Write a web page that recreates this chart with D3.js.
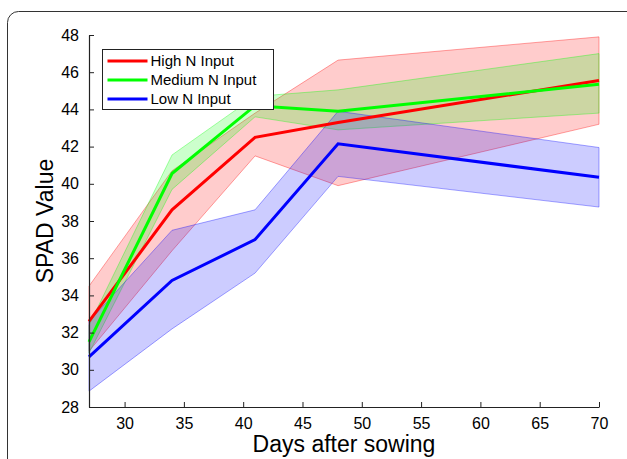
<!DOCTYPE html>
<html>
<head>
<meta charset="utf-8">
<script src="https://cdn.jsdelivr.net/npm/d3@7"></script>
<style>
  body { margin: 0; background: #fff; }
  svg { display: block; font-family: "Liberation Sans", Arial, sans-serif; }
</style>
</head>
<body>
<div id="chart"></div>
<script>
// Days after sowing
const days = [27, 34, 41, 48, 70];

// SPAD means and band limits per N level
const highMean  = [32.6, 38.6, 42.5, 43.3, 45.55];
const highUpper = [34.5, 40.7, 43.8, 46.65, 47.9];
const highLower = [31.0, 36.4, 41.5, 39.9, 43.2];

const medMean  = [31.5, 40.55, 44.2, 43.9, 45.35];
const medUpper = [32.4, 41.55, 44.7, 45.05, 47.0];
const medLower = [30.9, 39.7, 43.6, 42.9, 43.8];

const lowMean  = [30.7, 34.8, 37.0, 42.15, 40.35];
const lowUpper = [32.6, 37.5, 38.6, 43.9, 41.95];
const lowLower = [28.85, 32.2, 35.2, 40.4, 38.75];

const seriesNames = ['High N Input', 'Medium N Input', 'Low N Input'];
const xTicks = [30, 35, 40, 45, 50, 55, 60, 65, 70];
const yTicks = [28, 30, 32, 34, 36, 38, 40, 42, 44, 46, 48];

const series = [
  { name: seriesNames[0], mean: highMean, upper: highUpper, lower: highLower, line: '#ff0000', fill: 'rgba(255,0,0,0.2)', edge: 'rgba(255,0,0,0.35)' },
  { name: seriesNames[1], mean: medMean, upper: medUpper, lower: medLower, line: '#00ff00', fill: 'rgba(0,255,0,0.2)', edge: 'rgba(0,255,0,0.35)' },
  { name: seriesNames[2], mean: lowMean, upper: lowUpper, lower: lowLower, line: '#0000ff', fill: 'rgba(0,0,255,0.2)', edge: 'rgba(0,0,255,0.35)' }
];

const width = 627, height = 459;
const margin = { top: 35, right: 28, bottom: 52, left: 89 };

const svg = d3.select('#chart').append('svg')
  .attr('width', width)
  .attr('height', height);

// rounded frame around the figure
svg.append('rect')
  .attr('x', 7.5).attr('y', 11.5)
  .attr('width', 660).attr('height', 480)
  .attr('rx', 11)
  .attr('fill', 'none')
  .attr('stroke', '#333')
  .attr('stroke-width', 1);

const x = d3.scaleLinear().domain([27, 70]).range([margin.left, width - margin.right]);
const y = d3.scaleLinear().domain([28, 48]).range([height - margin.bottom, margin.top]);

const area = d3.area()
  .x((d, i) => x(days[i]))
  .y0(d => y(d[0]))
  .y1(d => y(d[1]));

const line = d3.line()
  .x((d, i) => x(days[i]))
  .y(d => y(d));

// shaded bands
series.forEach(s => {
  const pts = days.map((d, i) => [s.lower[i], s.upper[i]]);
  svg.append('path')
    .datum(pts)
    .attr('fill', s.fill)
    .attr('stroke', s.edge)
    .attr('stroke-width', 1)
    .attr('d', area);
});

// mean lines
series.forEach(s => {
  svg.append('path')
    .datum(s.mean)
    .attr('fill', 'none')
    .attr('stroke', s.line)
    .attr('stroke-width', 3)
    .attr('d', line);
});

// axes
const xAxis = svg.append('g')
  .attr('transform', `translate(0,${height - margin.bottom})`)
  .call(d3.axisBottom(x).tickValues(xTicks).tickSizeInner(-5).tickSizeOuter(0).tickPadding(11));

const yAxis = svg.append('g')
  .attr('transform', `translate(${margin.left},0)`)
  .call(d3.axisLeft(y).tickValues(yTicks).tickSizeInner(-5).tickSizeOuter(0).tickPadding(10));

[xAxis, yAxis].forEach(g => {
  g.select('.domain').attr('stroke', '#222').attr('stroke-width', 1.2);
  g.selectAll('.tick line').attr('stroke', '#222');
  g.selectAll('.tick text')
    .attr('font-family', '"Liberation Sans", Arial, sans-serif')
    .attr('font-size', 16)
    .attr('fill', '#000');
});

// axis titles
svg.append('text')
  .attr('x', (margin.left + width - margin.right) / 2)
  .attr('y', 452)
  .attr('text-anchor', 'middle')
  .attr('font-size', 23)
  .text('Days after sowing');

svg.append('text')
  .attr('transform', `translate(53,${(margin.top + height - margin.bottom) / 2}) rotate(-90)`)
  .attr('text-anchor', 'middle')
  .attr('font-size', 23)
  .text('SPAD Value');

// legend
const legend = svg.append('g').attr('transform', 'translate(102.5,49.5)');
legend.append('rect')
  .attr('width', 171).attr('height', 60)
  .attr('fill', '#fff')
  .attr('stroke', '#222')
  .attr('stroke-width', 1);

series.forEach((s, i) => {
  const row = legend.append('g').attr('transform', `translate(0,${11.5 + i * 19})`);
  row.append('line')
    .attr('x1', 5).attr('x2', 45)
    .attr('stroke', s.line)
    .attr('stroke-width', 3);
  row.append('text')
    .attr('x', 48).attr('y', 5)
    .attr('font-size', 15)
    .text(s.name);
});
</script>
</body>
</html>
